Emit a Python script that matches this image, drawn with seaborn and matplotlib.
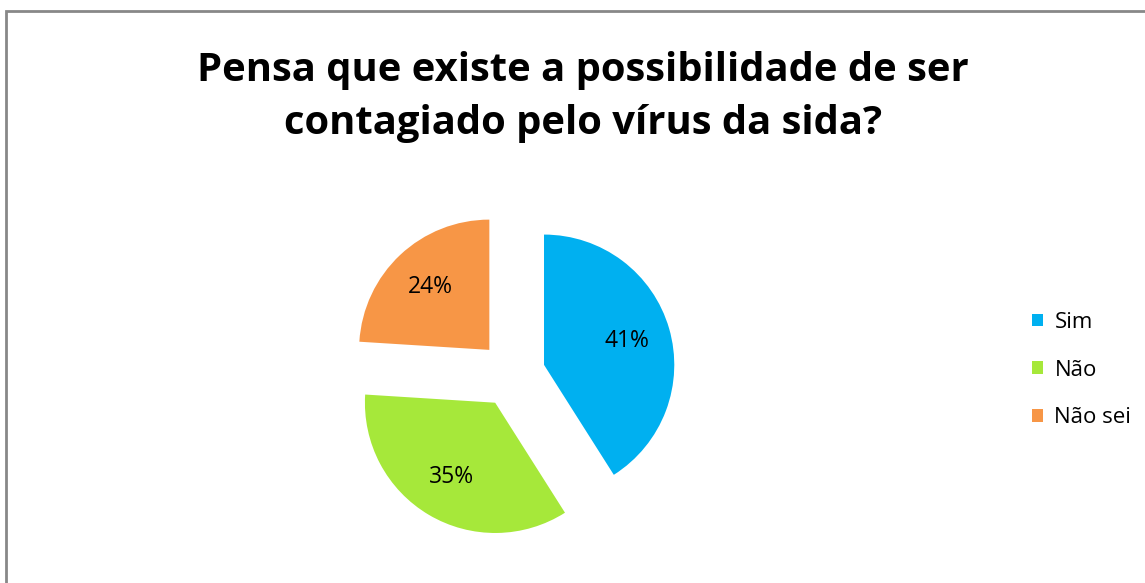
import matplotlib
matplotlib.use("Agg")
import matplotlib.pyplot as plt
import seaborn as sns
from matplotlib.patches import Rectangle

labels = ["Sim", "Não", "Não sei"]
values = [41, 35, 24]
colors = ["#00B0F0", "#A6E83A", "#F79646"]
title = "Pensa que existe a possibilidade de ser\ncontagiado pelo vírus da sida?"

sns.set_theme(style="white")
plt.rcParams["font.family"] = ["Open Sans", "DejaVu Sans"]
plt.rcParams["text.color"] = "black"

fig = plt.figure(figsize=(11.45, 5.83), dpi=100)

# chart border (right and bottom edges fall outside the image)
fig.patches.append(Rectangle((6 / 1145, -0.05), 1.2, 1 - 11 / 583 + 0.05,
                             transform=fig.transFigure, fill=False,
                             edgecolor="#888888", linewidth=2))

ax = fig.add_axes([0.273, 0.0163, 0.3485, 0.684])
wedges, texts, autotexts = ax.pie(
    values, colors=colors, startangle=90, counterclock=False, radius=0.98,
    explode=[0.25, 0.25, 0.25], autopct="%d%%", pctdistance=0.66,
    textprops={"fontsize": 16.5, "color": "black"},
    wedgeprops={"linewidth": 0},
)
ax.set_xlim(-1.5, 1.5)
ax.set_ylim(-1.5, 1.5)
ax.set_aspect("equal")
ax.axis("off")

fig.text(0.509, 0.834, title, ha="center", va="center", color="black",
         fontsize=28.8, fontweight="bold", linespacing=1.47)

fig.legend(wedges, labels, loc="center left",
           bbox_to_anchor=(0.884, 0.365), frameon=False,
           fontsize=16, handlelength=0.5, handleheight=0.5,
           handletextpad=0.5, labelspacing=1.2)

fig.savefig("out.png", dpi=100)
